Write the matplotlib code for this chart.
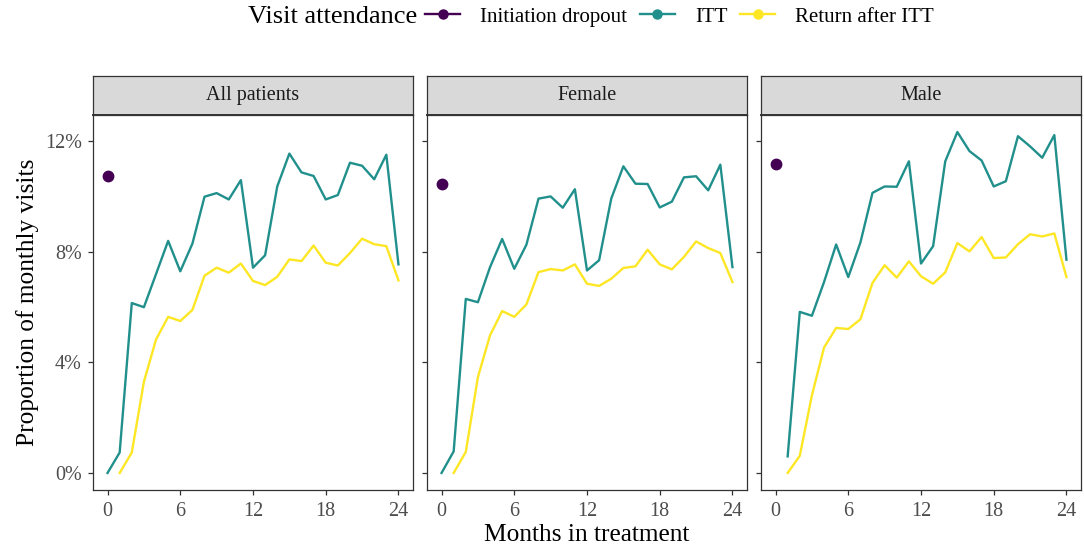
import matplotlib.pyplot as plt
from matplotlib.lines import Line2D
from matplotlib.ticker import FuncFormatter

plt.rcParams['font.family'] = ['Liberation Serif', 'DejaVu Serif']

months = list(range(25))
panels = ["All patients", "Female", "Male"]

# Proportion of monthly visits (%), month 0..24 (None = no value)
itt_all = [0.0, 0.74, 6.15, 6.0, 7.2, 8.4, 7.3, 8.3, 10.0, 10.13, 9.9, 10.6, 7.43, 7.88,
           10.37, 11.56, 10.88, 10.75, 9.9, 10.06, 11.23, 11.12, 10.63, 11.52, 7.55]
ret_all = [None, 0.0, 0.74, 3.3, 4.83, 5.65, 5.5, 5.9, 7.14, 7.43, 7.25, 7.58, 6.95, 6.8,
           7.1, 7.73, 7.67, 8.23, 7.61, 7.51, 7.96, 8.48, 8.28, 8.21, 6.97]
drop_all = 10.74

itt_female = [0.0, 0.78, 6.3, 6.18, 7.45, 8.47, 7.39, 8.26, 9.93, 10.01, 9.6, 10.27, 7.33, 7.7,
              9.93, 11.1, 10.47, 10.46, 9.61, 9.82, 10.7, 10.74, 10.23, 11.16, 7.45]
ret_female = [None, 0.0, 0.76, 3.47, 4.98, 5.86, 5.65, 6.1, 7.27, 7.38, 7.33, 7.55, 6.85, 6.77,
              7.03, 7.42, 7.48, 8.08, 7.55, 7.37, 7.82, 8.38, 8.14, 7.96, 6.91]
drop_female = 10.47

itt_male = [None, 0.6, 5.83, 5.69, 6.91, 8.27, 7.09, 8.34, 10.14, 10.37, 10.36, 11.28, 7.58, 8.21,
            11.28, 12.34, 11.65, 11.31, 10.37, 10.56, 12.19, 11.82, 11.41, 12.23, 7.72]
ret_male = [None, 0.0, 0.62, 2.81, 4.54, 5.25, 5.21, 5.56, 6.88, 7.52, 7.07, 7.66, 7.12, 6.85,
            7.26, 8.32, 8.02, 8.54, 7.78, 7.8, 8.28, 8.64, 8.56, 8.67, 7.09]
drop_male = 11.19

itt_series = [itt_all, itt_female, itt_male]
ret_series = [ret_all, ret_female, ret_male]
drop_vals = [drop_all, drop_female, drop_male]

c_drop, c_itt, c_ret = "#440154", "#21908C", "#FDE725"
W, H = 1084, 548

fig = plt.figure(figsize=(W / 100, H / 100), dpi=100)

lefts = [93, 427, 761]
pw = 320
top, bottom, strip_top = 115, 490, 76

for i, name in enumerate(panels):
    ax = fig.add_axes([lefts[i] / W, 1 - bottom / H, pw / W, (bottom - top) / H])
    xs = [m for m, v in zip(months, itt_series[i]) if v is not None]
    ys = [v for v in itt_series[i] if v is not None]
    ax.plot(xs, ys, color=c_itt, lw=1.7)
    xs = [m for m, v in zip(months, ret_series[i]) if v is not None]
    ys = [v for v in ret_series[i] if v is not None]
    ax.plot(xs, ys, color=c_ret, lw=1.7)
    ax.plot([0], [drop_vals[i]], 'o', color=c_drop, ms=7.5)
    ax.set_xlim(-1.2, 25.2)
    ax.set_ylim(-0.617, 12.957)
    ax.set_xticks([0, 6, 12, 18, 24])
    ax.set_yticks([0, 4, 8, 12])
    ax.yaxis.set_major_formatter(FuncFormatter(lambda v, p: f"{v:.0f}%"))
    for s in ax.spines.values():
        s.set_color("#333333")
        s.set_linewidth(0.9)
    ax.tick_params(length=3.5, width=0.9, color="#333333", labelcolor="#4D4D4D",
                   labelsize=14.5)
    ax.tick_params(axis='x', pad=5)
    ax.tick_params(axis='y', pad=4.5)
    if i > 0:
        ax.tick_params(labelleft=False)

    sax = fig.add_axes([lefts[i] / W, 1 - top / H, pw / W, (top - strip_top) / H])
    sax.set_facecolor("#D9D9D9")
    sax.set_xticks([])
    sax.set_yticks([])
    for s in sax.spines.values():
        s.set_color("#333333")
        s.set_linewidth(0.9)
    sax.spines['bottom'].set_linewidth(1.4)
    sax.text(0.5, 0.5, name, ha='center', va='center', fontsize=14.5,
             color="#1A1A1A", transform=sax.transAxes)

fig.text(587 / W, 1 - 535 / H, "Months in treatment", ha='center', va='center', fontsize=18.3)
fig.text(28 / W, 1 - 302 / H, "Proportion of monthly visits", ha='center', va='center',
         rotation=90, fontsize=18.3)

fig.text(248 / W, 1 - 17 / H, "Visit attendance", ha='left', va='center', fontsize=19)
handles = [Line2D([], [], color=c, lw=1.7, marker='o', ms=6.5) for c in (c_drop, c_itt, c_ret)]
fig.legend(handles, ["Initiation dropout", "ITT", "Return after ITT"], ncol=3,
           loc='center left', bbox_to_anchor=(425 / W, 1 - 17 / H), frameon=False,
           fontsize=15, handlelength=1.7, handletextpad=0.95, columnspacing=0.6,
           borderaxespad=0, borderpad=0)

fig.savefig("out.png", dpi=100)
